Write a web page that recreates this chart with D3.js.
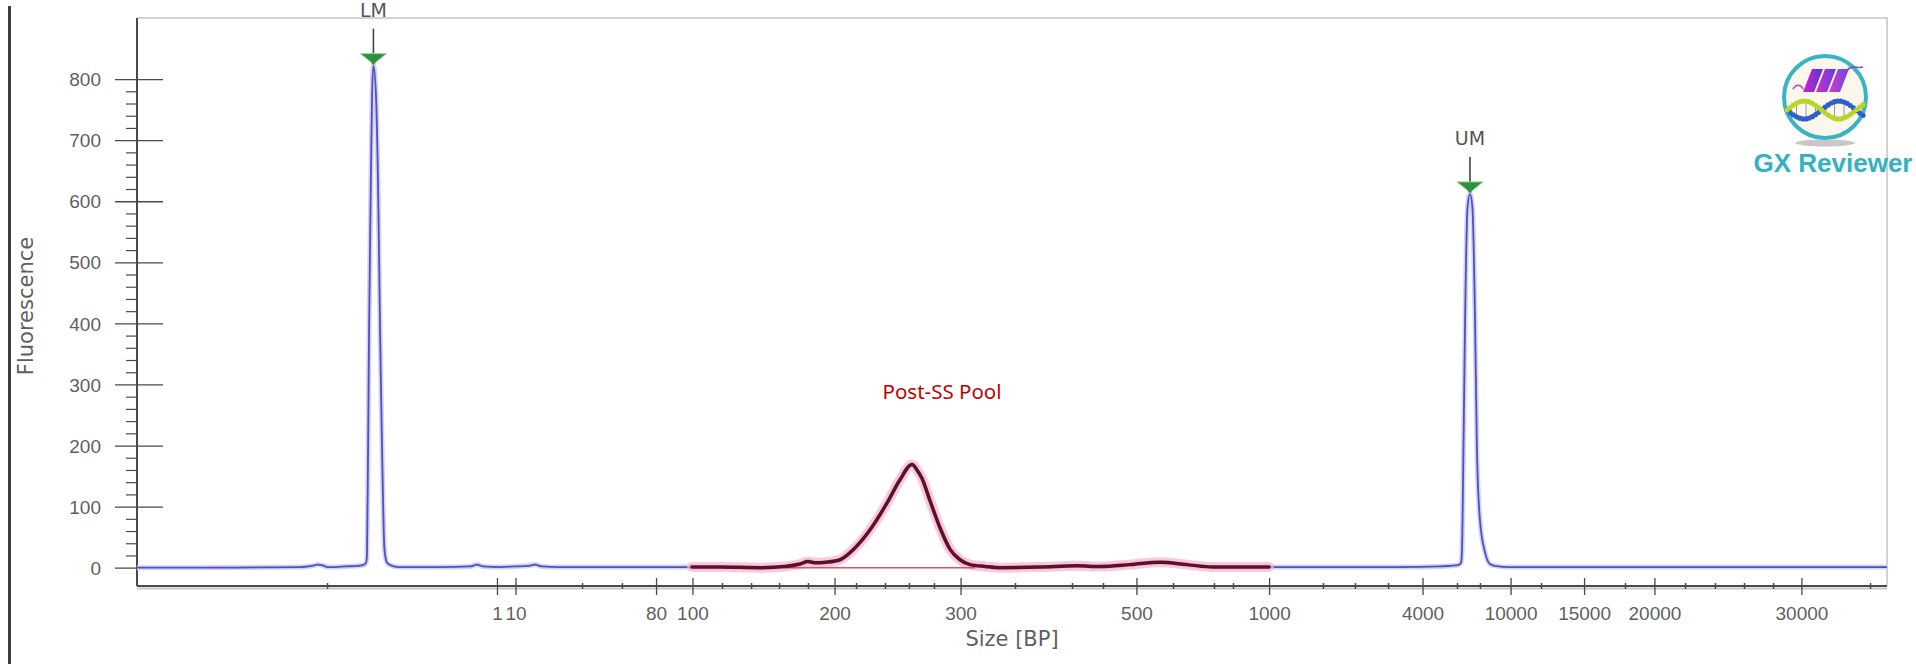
<!DOCTYPE html>
<html>
<head>
<meta charset="utf-8">
<script src="https://cdn.jsdelivr.net/npm/d3@7"></script>
<style>
  html, body { margin: 0; padding: 0; background: #ffffff; }
  svg { display: block; }
</style>
</head>
<body>
<script>
// ---------------- DATA ----------------
// Migration time (arbitrary seconds) and fluorescence
const traceTime = [20.00, 23.60, 27.03, 29.31, 30.00, 30.34, 30.57, 30.91, 31.31, 31.89, 32.63, 32.91, 33.09, 33.14, 33.20, 33.26, 33.34, 33.43, 33.51, 33.66, 33.80, 33.89, 34.00, 34.14, 34.29, 34.57, 35.03, 37.31, 39.03, 39.43, 39.77, 40.74, 41.60, 42.34, 42.74, 43.14, 44.17, 47.60, 51.71, 53.31, 55.60, 57.03, 57.89, 58.34, 58.80, 59.37, 60.17, 60.91, 61.89, 62.86, 63.60, 64.29, 64.57, 64.86, 65.31, 65.89, 66.46, 67.03, 67.60, 68.46, 69.31, 71.60, 73.71, 75.03, 76.74, 78.46, 80.00, 81.49, 83.03, 84.69, 86.46, 89.31, 92.17, 94.46, 95.03, 95.49, 95.66, 95.71, 95.80, 95.89, 96.03, 96.17, 96.31, 96.46, 96.57, 96.74, 97.03, 97.31, 97.60, 98.46, 103.60, 109.31, 115.03, 120.00];
const traceFluor = [0, 0, 0.5, 1, 3, 5, 4, 1, 1, 2, 3, 4, 8, 20, 180, 385, 580, 770, 822, 770, 580, 385, 200, 30, 8, 3, 1, 1, 2, 5, 2, 1, 2, 3, 5, 2, 1, 1, 1, 1, 0, 2, 6, 10, 8, 9, 13, 29, 62, 106, 144, 169, 160, 146, 110, 65, 30, 13, 5, 2, 0, 1, 3, 2, 5, 9, 5, 1, 1, 1, 1, 1, 1, 2, 3, 4, 8, 25, 200, 405, 590, 612, 590, 405, 188, 78, 25, 6, 3, 1, 1, 1, 1, 1];

// Size ladder (bp) labels and their migration times
const sizeTickTimes = [40.57, 41.63, 49.66, 51.74, 59.86, 67.06, 77.11, 84.69, 93.46, 98.49, 102.69, 106.71, 115.11];
const sizeTickLabels = ["1", "10", "80", "100", "200", "300", "500", "1000", "4000", "10000", "15000", "20000", "30000"];
const minorTickTimes = [30.86, 45.43, 47.71, 53.43, 55.09, 56.69, 58.34, 61.09, 62.74, 64.11, 65.54, 70.17, 73.43, 75.2, 79.2, 81.54, 82.63, 87.77, 89.6, 91.49, 95.43, 96.74, 100.23, 105.03, 108.46, 110.17, 111.83, 113.49, 119.03];

const fluorTicks = [0, 100, 200, 300, 400, 500, 600, 700, 800];
const fluorMinorTicks = d3.range(20, 800, 20).filter(v => v % 100 !== 0);

// Markers
const markerNames = ["LM", "UM"];
const markerTimes = [33.51, 96.17];
const markerFluor = [822, 612];

// Sample region (100 bp .. 1000 bp) and its integration baseline
const regionName = "Post-SS Pool";
const regionRange = [51.71, 84.69];
const regionBaseline = [57.0, 67.9];

const timeDomain = [20, 120];
const fluorDomain = [-30, 900];

// ---------------- LAYOUT ----------------
const W = 1916, H = 664;
const plot = { left: 137, right: 1887, top: 18, bottom: 586 };

const svg = d3.select("body").append("svg")
  .attr("width", W).attr("height", H)
  .style("font-family", "'DejaVu Sans', sans-serif");

svg.append("rect").attr("width", W).attr("height", H).attr("fill", "#ffffff");

// left dark border bar
svg.append("rect").attr("x", 8).attr("y", 6).attr("width", 3).attr("height", H - 6).attr("fill", "#3c3c3c");

const x = d3.scaleLinear().domain(timeDomain).range([plot.left, plot.right]);
const y = d3.scaleLinear().domain(fluorDomain).range([plot.bottom, plot.top]);

// frame (top + right)
svg.append("path")
  .attr("d", `M${plot.left},${plot.top}H${plot.right}V${plot.bottom}`)
  .attr("fill", "none").attr("stroke", "#d2d2d2").attr("stroke-width", 2);

// ---------------- AXES ----------------
const axisColor = "#4a4a4a";
const labelColor = "#5f5f5f";

// Y minor ticks
const yMinor = svg.append("g").attr("transform", `translate(${plot.left},0)`)
  .call(d3.axisLeft(y).tickValues(fluorMinorTicks).tickSize(11).tickFormat(""));
yMinor.select(".domain").remove();
yMinor.selectAll("line").attr("stroke", axisColor).attr("stroke-width", 1.2);

// Y major ticks
const yAxis = svg.append("g").attr("transform", `translate(${plot.left},0)`)
  .call(d3.axisLeft(y).tickValues(fluorTicks).tickSizeInner(22).tickSizeOuter(0).tickPadding(14));
yAxis.select(".domain").remove();
yAxis.selectAll(".tick line").attr("x2", 26).attr("x1", -22).attr("stroke", axisColor).attr("stroke-width", 1.3);
yAxis.selectAll(".tick text").attr("fill", labelColor).style("font-size", "19px").attr("dy", "0.35em");

// Y axis line
svg.append("line").attr("x1", plot.left).attr("x2", plot.left)
  .attr("y1", plot.top).attr("y2", plot.bottom)
  .attr("stroke", axisColor).attr("stroke-width", 2);

// X axis: double line
svg.append("line").attr("x1", plot.left).attr("x2", plot.right)
  .attr("y1", plot.bottom + 2.5).attr("y2", plot.bottom + 2.5)
  .attr("stroke", "#c8c8c8").attr("stroke-width", 2);

const xMinor = svg.append("g").attr("transform", `translate(0,${plot.bottom})`)
  .call(d3.axisBottom(x).tickValues(minorTickTimes).tickSize(3).tickFormat(""));
xMinor.select(".domain").remove();
xMinor.selectAll("line").attr("y1", -3).attr("stroke", axisColor).attr("stroke-width", 1.5);

const xAxis = svg.append("g").attr("transform", `translate(0,${plot.bottom})`)
  .call(d3.axisBottom(x).tickValues(sizeTickTimes)
    .tickFormat((d, i) => sizeTickLabels[i]).tickSizeInner(9).tickSizeOuter(0).tickPadding(12));
xAxis.select(".domain").attr("stroke", axisColor).attr("stroke-width", 1.8)
  .attr("d", `M${plot.left},0H${plot.right}`);
xAxis.selectAll(".tick line").attr("y1", -8).attr("stroke", axisColor).attr("stroke-width", 1.3);
xAxis.selectAll(".tick text").attr("fill", labelColor).style("font-size", "19px");

// Axis titles
svg.append("text")
  .attr("transform", `translate(33,${(plot.top + plot.bottom) / 2 + 4}) rotate(-90)`)
  .attr("text-anchor", "middle").attr("fill", labelColor)
  .style("font-size", "21px").text("Fluorescence");

svg.append("text")
  .attr("x", 1012).attr("y", 646)
  .attr("text-anchor", "middle").attr("fill", labelColor)
  .style("font-size", "21px").text("Size [BP]");

// ---------------- TRACES ----------------
const pts = traceTime.map((t, i) => ({ t, v: traceFluor[i] }));
const line = d3.line().x(d => x(d.t)).y(d => y(d.v)).curve(d3.curveMonotoneX);

svg.append("clipPath").attr("id", "plotclip").append("rect")
  .attr("x", plot.left).attr("y", plot.top).attr("width", plot.right - plot.left).attr("height", plot.bottom - plot.top);

const g = svg.append("g").attr("clip-path", "url(#plotclip)");

// blue full trace
g.append("path").datum(pts).attr("d", line)
  .attr("fill", "none").attr("stroke", "#d2d2f6").attr("stroke-width", 5).attr("stroke-linejoin", "round");
g.append("path").datum(pts).attr("d", line)
  .attr("fill", "none").attr("stroke", "#5050c0").attr("stroke-width", 1.8).attr("stroke-linejoin", "round");

// sample region trace
const regionPts = pts.filter(d => d.t >= regionRange[0] && d.t <= regionRange[1]);
g.append("path").datum(regionPts).attr("d", line)
  .attr("fill", "none").attr("stroke", "#f6b3c9").attr("stroke-width", 10).attr("stroke-opacity", 0.7)
  .attr("stroke-linejoin", "round").attr("stroke-linecap", "round");
// integration baseline
g.append("line")
  .attr("x1", x(regionBaseline[0])).attr("x2", x(regionBaseline[1]))
  .attr("y1", y(0)).attr("y2", y(0))
  .attr("stroke", "#e0506a").attr("stroke-width", 1.5);
g.append("path").datum(regionPts).attr("d", line)
  .attr("fill", "none").attr("stroke", "#5e0f2e").attr("stroke-width", 3.5)
  .attr("stroke-linejoin", "round").attr("stroke-linecap", "round");

// region label
svg.append("text")
  .attr("x", 942).attr("y", 399)
  .attr("text-anchor", "middle").attr("fill", "#c00000")
  .style("font-family", "'Noto Sans', 'Open Sans', sans-serif").style("font-size", "20.5px")
  .text(regionName);

// ---------------- MARKERS ----------------
markerNames.forEach((name, i) => {
  const mx = x(markerTimes[i]);
  const my = y(markerFluor[i]);
  const mg = svg.append("g");
  mg.append("line").attr("x1", mx).attr("x2", mx).attr("y1", my - 37).attr("y2", my - 10)
    .attr("stroke", "#3d4a3d").attr("stroke-width", 1.6);
  mg.append("path")
    .attr("d", `M${mx - 13},${my - 12} L${mx + 13},${my - 12} L${mx + 3},${my - 4} L${mx},${my} L${mx - 3},${my - 4} Z`)
    .attr("fill", "#2f8f3c").attr("stroke", "#8fd79a").attr("stroke-width", 1);
  mg.append("text").attr("x", mx).attr("y", my - 49)
    .attr("text-anchor", "middle").attr("fill", "#555555")
    .style("font-size", "19px").text(name);
});

// ---------------- LOGO ----------------
const logo = svg.append("g").attr("transform", "translate(1825,97)");
logo.append("ellipse").attr("cx", 0).attr("cy", 46).attr("rx", 30).attr("ry", 3.5).attr("fill", "#c8c8c8");
logo.append("circle").attr("r", 41).attr("fill", "#fcf7ec").attr("stroke", "#38b5c2").attr("stroke-width", 4);
const grad = svg.append("defs").append("linearGradient").attr("id", "wgrad")
  .attr("x1", "0%").attr("x2", "100%").attr("y1", "0%").attr("y2", "0%");
grad.append("stop").attr("offset", "0%").attr("stop-color", "#d018c8");
grad.append("stop").attr("offset", "100%").attr("stop-color", "#4a2bd8");
// "W" ribbons
[-22, -9, 4].forEach((dx, k) => {
  logo.append("path")
    .attr("d", `M${dx},-5 L${dx + 11},-5 L${dx + 20},-28 L${dx + 9},-28 Z`)
    .attr("fill", "url(#wgrad)").attr("opacity", 0.95 - k * 0.05);
});
logo.append("path").attr("d", "M-32,-8 C-28,-14 -24,-12 -22,-8").attr("fill", "none").attr("stroke", "#c040c0").attr("stroke-width", 1.5);
logo.append("path").attr("d", "M22,-27 C28,-33 32,-28 38,-30").attr("fill", "none").attr("stroke", "#8050c0").attr("stroke-width", 1.5);
// DNA helix
const helixA = [], helixB = [];
for (let k = 0; k <= 24; k++) {
  const hx = -38 + k * (76 / 24);
  helixA.push([hx, 13 + 9 * Math.sin(k / 24 * Math.PI * 2.2)]);
  helixB.push([hx, 13 - 9 * Math.sin(k / 24 * Math.PI * 2.2)]);
}
helixA.forEach((p, k) => {
  if (k % 3 === 0) logo.append("line").attr("x1", p[0]).attr("x2", helixB[k][0]).attr("y1", p[1]).attr("y2", helixB[k][1])
    .attr("stroke", "#9a9a9a").attr("stroke-width", 1);
});
helixA.forEach(p => logo.append("circle").attr("cx", p[0]).attr("cy", p[1]).attr("r", 2.6).attr("fill", "#2f5fc8"));
helixB.forEach(p => logo.append("circle").attr("cx", p[0]).attr("cy", p[1]).attr("r", 2.6).attr("fill", "#b8d62a"));

svg.append("text").attr("x", 1833).attr("y", 172).attr("text-anchor", "middle")
  .attr("fill", "#33b2bf").style("font-family", "'Liberation Sans', Arial, sans-serif")
  .style("font-weight", "bold").style("font-size", "26px").text("GX Reviewer");
</script>
</body>
</html>
